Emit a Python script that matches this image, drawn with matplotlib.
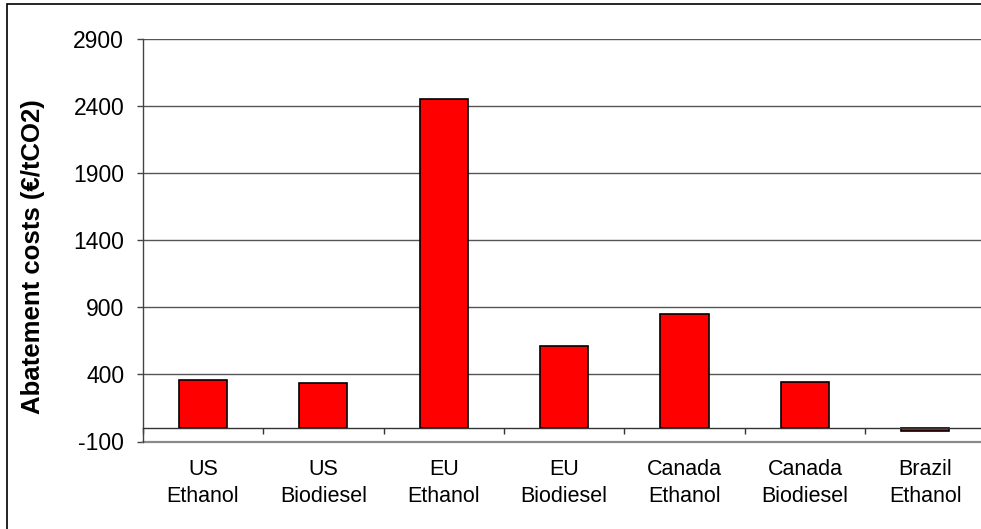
import matplotlib
matplotlib.use("Agg")
import matplotlib.pyplot as plt
from matplotlib.patches import Rectangle
import numpy as np

categories = ["US\nEthanol", "US\nBiodiesel", "EU\nEthanol", "EU\nBiodiesel",
              "Canada\nEthanol", "Canada\nBiodiesel", "Brazil\nEthanol"]
costs = [360, 335, 2455, 610, 850, 345, -20]
y_ticks = [-100, 400, 900, 1400, 1900, 2400, 2900]
y_label = "Abatement costs (€/tCO2)"

plt.rcParams["font.family"] = ["Liberation Sans", "DejaVu Sans"]
plt.rcParams["axes.unicode_minus"] = False

W, H = 981, 529
fig = plt.figure(figsize=(W / 100, H / 100), dpi=100)
fig.patch.set_facecolor("white")

# plot area runs past the right edge of the canvas
left_px, right_px, top_px, bottom_px = 142.7, 985.5, 38.8, 441.5
ax = fig.add_axes([left_px / W, 1 - bottom_px / H,
                   (right_px - left_px) / W, (bottom_px - top_px) / H])

x = np.arange(len(categories))
ax.bar(x, costs, width=0.4, color="#FF0000", edgecolor="black", linewidth=1.2, zorder=3)

ax.set_xlim(-0.5, len(categories) - 0.5)
ax.set_ylim(y_ticks[0], y_ticks[-1])
ax.set_yticks(y_ticks)
ax.tick_params(axis="y", direction="out", length=4.3, width=1, color="#444444",
               labelsize=16.5, pad=9)

for v in y_ticks[1:]:
    ax.axhline(v, color="#555555", linewidth=1.0, zorder=1)
ax.axhline(y_ticks[0], color="#8a8a8a", linewidth=1.6, zorder=2, clip_on=False)

ax.spines["top"].set_visible(False)
ax.spines["right"].set_visible(False)
ax.spines["left"].set_color("#444444")
ax.spines["left"].set_linewidth(1.0)
ax.spines["bottom"].set_position(("data", 0))
ax.spines["bottom"].set_color("#333333")
ax.spines["bottom"].set_linewidth(1.0)
ax.spines["bottom"].set_zorder(4)

ax.set_xticks(x)
ax.set_xticklabels(categories, fontsize=15.5, linespacing=1.4)
ax.set_xticks(np.arange(len(categories) + 1) - 0.5, minor=True)
ax.tick_params(axis="x", which="major", length=0, pad=22)
ax.tick_params(axis="x", which="minor", direction="out", length=4.3, width=1,
               color="#333333")

ax.set_ylabel(y_label, fontsize=18.5, fontweight="bold")
ax.yaxis.set_label_coords((45 - left_px) / (right_px - left_px),
                          (bottom_px - 257) / (bottom_px - top_px))

# chart frame
fig.patches.append(Rectangle((7 / W, -0.1), 1.2, 1 - 4 / H + 0.1,
                             transform=fig.transFigure, fill=False,
                             edgecolor="black", linewidth=1.2))

fig.savefig("out.png", dpi=100)
